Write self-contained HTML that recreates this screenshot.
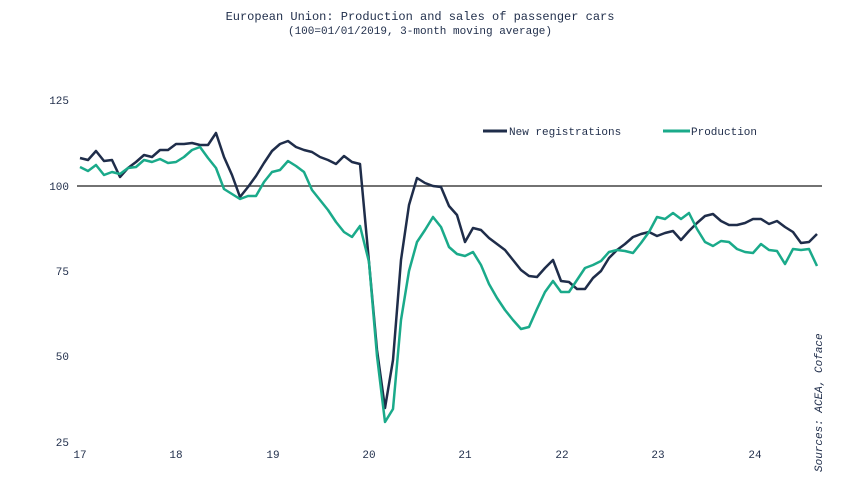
<!DOCTYPE html><html><head><style>body{margin:0;background:#fff}svg{display:block}text{font-family:"Liberation Mono",monospace;fill:#1f2d4a}</style></head><body>
<svg width="845" height="484" viewBox="0 0 845 484">
<text x="420" y="20" font-size="12" text-anchor="middle">European Union: Production and sales of passenger cars</text>
<text x="420" y="34" font-size="11" text-anchor="middle">(100=01/01/2019, 3-month moving average)</text>
<g font-size="11" text-anchor="end"><text x="69" y="104">125</text><text x="69" y="190">100</text><text x="69" y="275">75</text><text x="69" y="360">50</text><text x="69" y="446">25</text></g>
<g font-size="11" text-anchor="middle"><text x="80" y="458">17</text><text x="176" y="458">18</text><text x="273" y="458">19</text><text x="369" y="458">20</text><text x="465" y="458">21</text><text x="562" y="458">22</text><text x="658" y="458">23</text><text x="755" y="458">24</text></g>
<line x1="77" y1="186" x2="822" y2="186" stroke="#444" stroke-width="1.5"/>
<polyline fill="none" stroke="#1f2d4a" stroke-width="2.5" stroke-linejoin="round" points="80,158 88,160 96,151 104,161 112,160 120,177 128,168 136,162 144,155 152,157 160,150 168,150 176,144 184,144 192,143 200,145 208,145 216,133 224,157 232,175 240,197 248,187 256,176 264,163 272,151 280,144 288,141 296,147 304,150 312,152 320,157 328,160 336,164 344,156 352,162 360,164 369,262 377,350 385,408 393,360 401,260 409,205 417,178 425,183 433,186 441,187 449,206 457,215 465,242 473,228 481,230 489,238 497,244 505,250 513,260 521,270 529,276 537,277 545,268 553,260 561,281 569,282 577,289 585,289 593,278 601,271 609,258 617,250 625,244 633,237 641,234 649,232 657,236 665,233 673,231 681,240 689,231 697,223 705,216 713,214 721,221 729,225 737,225 745,223 753,219 761,219 769,224 777,221 785,227 793,232 801,243 809,242 817,234"/>
<polyline fill="none" stroke="#1aaa8a" stroke-width="2.5" stroke-linejoin="round" points="80,167 88,171 96,165 104,175 112,172 120,174 128,168 136,167 144,160 152,162 160,159 168,163 176,162 184,157 192,150 200,147 208,158 216,168 224,189 232,194 240,199 248,196 256,196 264,182 272,172 280,170 288,161 296,166 304,172 312,190 320,200 328,210 336,222 344,232 352,237 360,226 369,262 377,356 385,422 393,409 401,320 409,271 417,242 425,230 433,217 441,227 449,247 457,254 465,256 473,252 481,265 489,284 497,298 505,310 513,320 521,329 529,327 537,309 545,292 553,281 561,292 569,292 577,280 585,268 593,265 601,261 609,252 617,250 625,251 633,253 641,243 649,232 657,217 665,219 673,213 681,219 689,213 697,229 705,242 713,246 721,241 729,242 737,249 745,252 753,253 761,244 769,250 777,251 785,264 793,249 801,250 809,249 817,266"/>
<line x1="483" y1="131" x2="507" y2="131" stroke="#1f2d4a" stroke-width="3"/>
<text x="509" y="135" font-size="11">New registrations</text>
<line x1="663" y1="131" x2="690" y2="131" stroke="#1aaa8a" stroke-width="3"/>
<text x="691" y="135" font-size="11">Production</text>
<text transform="translate(822,472) rotate(-90)" font-size="11" font-style="italic">Sources: ACEA, Coface</text>
</svg></body></html>
